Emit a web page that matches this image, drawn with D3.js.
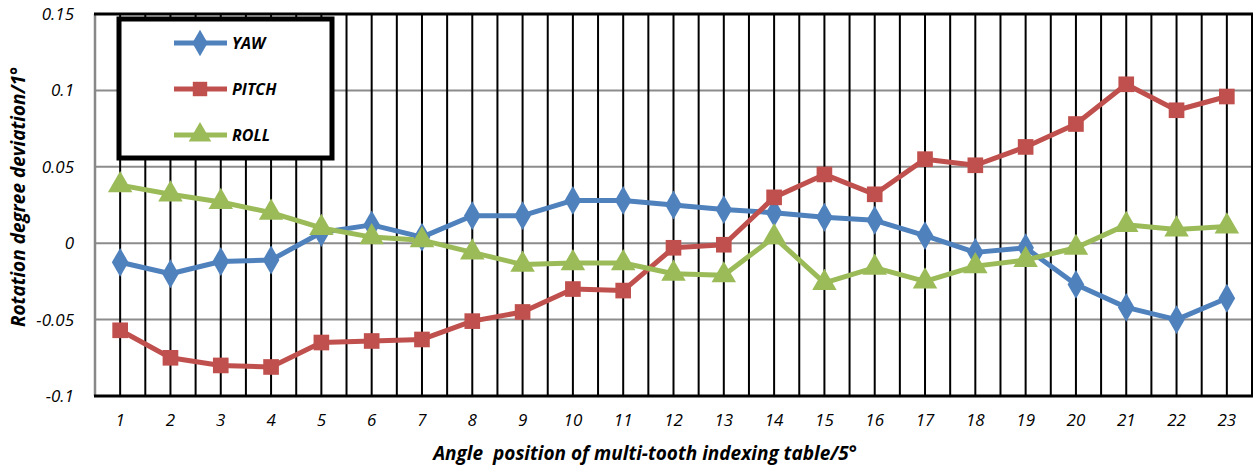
<!DOCTYPE html>
<html>
<head>
<meta charset="utf-8">
<script src="https://cdn.jsdelivr.net/npm/d3@7"></script>
<style>
  html, body { margin: 0; padding: 0; background: #fff; }
  svg { display: block; }
  text { font-family: "Open Sans", "Noto Sans", sans-serif; }
</style>
</head>
<body>
<svg id="chart" width="1254" height="468"></svg>
<script>
// Angle positions (each step = 5°)
const positions = d3.range(1, 24);

// Rotation degree deviation per position
const yaw   = [-0.0125, -0.020, -0.012, -0.011, 0.007, 0.012, 0.004, 0.018, 0.018, 0.028, 0.028, 0.025,
               0.022, 0.020, 0.017, 0.015, 0.005, -0.006, -0.003, -0.027, -0.042, -0.050, -0.036];
const pitch = [-0.057, -0.075, -0.080, -0.081, -0.065, -0.064, -0.063, -0.051, -0.045, -0.030, -0.031, -0.003,
               -0.001, 0.030, 0.045, 0.032, 0.055, 0.051, 0.063, 0.078, 0.104, 0.087, 0.096];
const roll  = [0.038, 0.032, 0.027, 0.020, 0.010, 0.004, 0.002, -0.006, -0.014, -0.013, -0.013, -0.020,
               -0.021, 0.004, -0.026, -0.016, -0.025, -0.015, -0.011, -0.003, 0.012, 0.009, 0.011];

const yTicks = [-0.1, -0.05, 0, 0.05, 0.1, 0.15];
const yTickLabels = ["-0.1", "-0.05", "0", "0.05", "0.1", "0.15"];

const seriesNames = ["YAW", "PITCH", "ROLL"];
const seriesColors = ["#4F81BD", "#C0504D", "#9BBB59"];
const seriesSymbols = [d3.symbolDiamond, d3.symbolSquare, d3.symbolTriangle];
const seriesSizes = [240, 245, 260];
const seriesData = [yaw, pitch, roll];

const svg = d3.select("#chart");
const plot = { left: 95, right: 1252, top: 14, bottom: 396 };

const x = d3.scaleBand().domain(positions).range([plot.left, plot.right]).padding(0);
const y = d3.scaleLinear().domain([-0.1, 0.15]).range([plot.bottom, plot.top]);
const cx = d => x(d) + x.bandwidth() / 2;

// Horizontal grid lines
svg.append("g")
  .selectAll("line")
  .data(yTicks.filter(t => t > -0.1 && t < 0.15))
  .join("line")
  .attr("x1", plot.left).attr("x2", plot.right)
  .attr("y1", d => y(d)).attr("y2", d => y(d))
  .attr("stroke", "#8c8c8c").attr("stroke-width", 2);

// Vertical lines at category centres and category boundaries
const vlines = [];
positions.forEach((p, i) => {
  vlines.push(cx(p));
  if (i > 0) vlines.push(x(p));
});
svg.append("g")
  .selectAll("line")
  .data(vlines)
  .join("line")
  .attr("x1", d => d).attr("x2", d => d)
  .attr("y1", plot.top).attr("y2", plot.bottom)
  .attr("stroke", "#000").attr("stroke-width", 2);

// Frame
svg.append("line").attr("x1", plot.left).attr("x2", plot.left)
  .attr("y1", plot.top).attr("y2", plot.bottom)
  .attr("stroke", "#888").attr("stroke-width", 2.5);
svg.append("line").attr("x1", plot.left - 1).attr("x2", plot.right + 1)
  .attr("y1", plot.top).attr("y2", plot.top)
  .attr("stroke", "#000").attr("stroke-width", 3);
svg.append("line").attr("x1", plot.left - 1).attr("x2", plot.right + 1)
  .attr("y1", plot.bottom).attr("y2", plot.bottom)
  .attr("stroke", "#000").attr("stroke-width", 3);
svg.append("line").attr("x1", plot.right).attr("x2", plot.right)
  .attr("y1", plot.top).attr("y2", plot.bottom)
  .attr("stroke", "#000").attr("stroke-width", 2);

// Y axis labels
const yAxis = d3.axisLeft(y).tickValues(yTicks)
  .tickFormat((d, i) => yTickLabels[i]).tickSize(0).tickPadding(0);
const gy = svg.append("g").attr("transform", `translate(${plot.left - 21},0)`).call(yAxis);
gy.select(".domain").remove();
gy.selectAll("text")
  .attr("font-size", 17).attr("font-style", "italic").attr("fill", "#000")
  .style("font-family", "'Open Sans', sans-serif");

// X axis labels
const xAxis = d3.axisBottom(x).tickSize(0).tickPadding(0);
const gx = svg.append("g").attr("transform", `translate(0,${plot.bottom + 18})`).call(xAxis);
gx.select(".domain").remove();
gx.selectAll("text")
  .attr("font-size", 17).attr("font-style", "italic").attr("fill", "#000")
  .style("font-family", "'Open Sans', sans-serif");

// Series lines and markers
const line = d3.line().x((d, i) => cx(positions[i])).y(d => y(d));
seriesData.forEach((vals, s) => {
  svg.append("path").datum(vals)
    .attr("d", line).attr("fill", "none")
    .attr("stroke", seriesColors[s]).attr("stroke-width", 5)
    .attr("stroke-linejoin", "round");
});
seriesData.forEach((vals, s) => {
  svg.append("g").selectAll("path")
    .data(vals)
    .join("path")
    .attr("transform", (d, i) => `translate(${cx(positions[i])},${y(d)})`)
    .attr("d", d3.symbol().type(seriesSymbols[s]).size(seriesSizes[s]))
    .attr("fill", seriesColors[s]);
});

// Legend
const legend = svg.append("g");
legend.append("rect")
  .attr("x", 119).attr("y", 19).attr("width", 213).attr("height", 139)
  .attr("fill", "#fff").attr("stroke", "#000").attr("stroke-width", 5);
seriesNames.forEach((name, s) => {
  const ly = 43 + s * 46;
  legend.append("line").attr("x1", 174).attr("x2", 227)
    .attr("y1", ly).attr("y2", ly)
    .attr("stroke", seriesColors[s]).attr("stroke-width", 5);
  legend.append("path")
    .attr("transform", `translate(200,${ly})`)
    .attr("d", d3.symbol().type(seriesSymbols[s]).size(seriesSizes[s] * 0.85))
    .attr("fill", seriesColors[s]);
  legend.append("text").attr("x", 232).attr("y", ly + 6)
    .attr("font-size", 16).attr("font-weight", "bold").attr("font-style", "italic")
    .text(name);
});

// Axis titles
svg.append("text")
  .attr("x", 645).attr("y", 460)
  .attr("text-anchor", "middle")
  .attr("font-size", 19).attr("font-weight", "bold").attr("font-style", "italic")
  .style("white-space", "pre")
  .text("Angle  position of multi-tooth indexing table/5°");

svg.append("text")
  .attr("transform", "translate(25,197) rotate(-90)")
  .attr("text-anchor", "middle")
  .attr("font-size", 19).attr("font-weight", "bold").attr("font-style", "italic")
  .text("Rotation degree deviation/1°");
</script>
</body>
</html>
